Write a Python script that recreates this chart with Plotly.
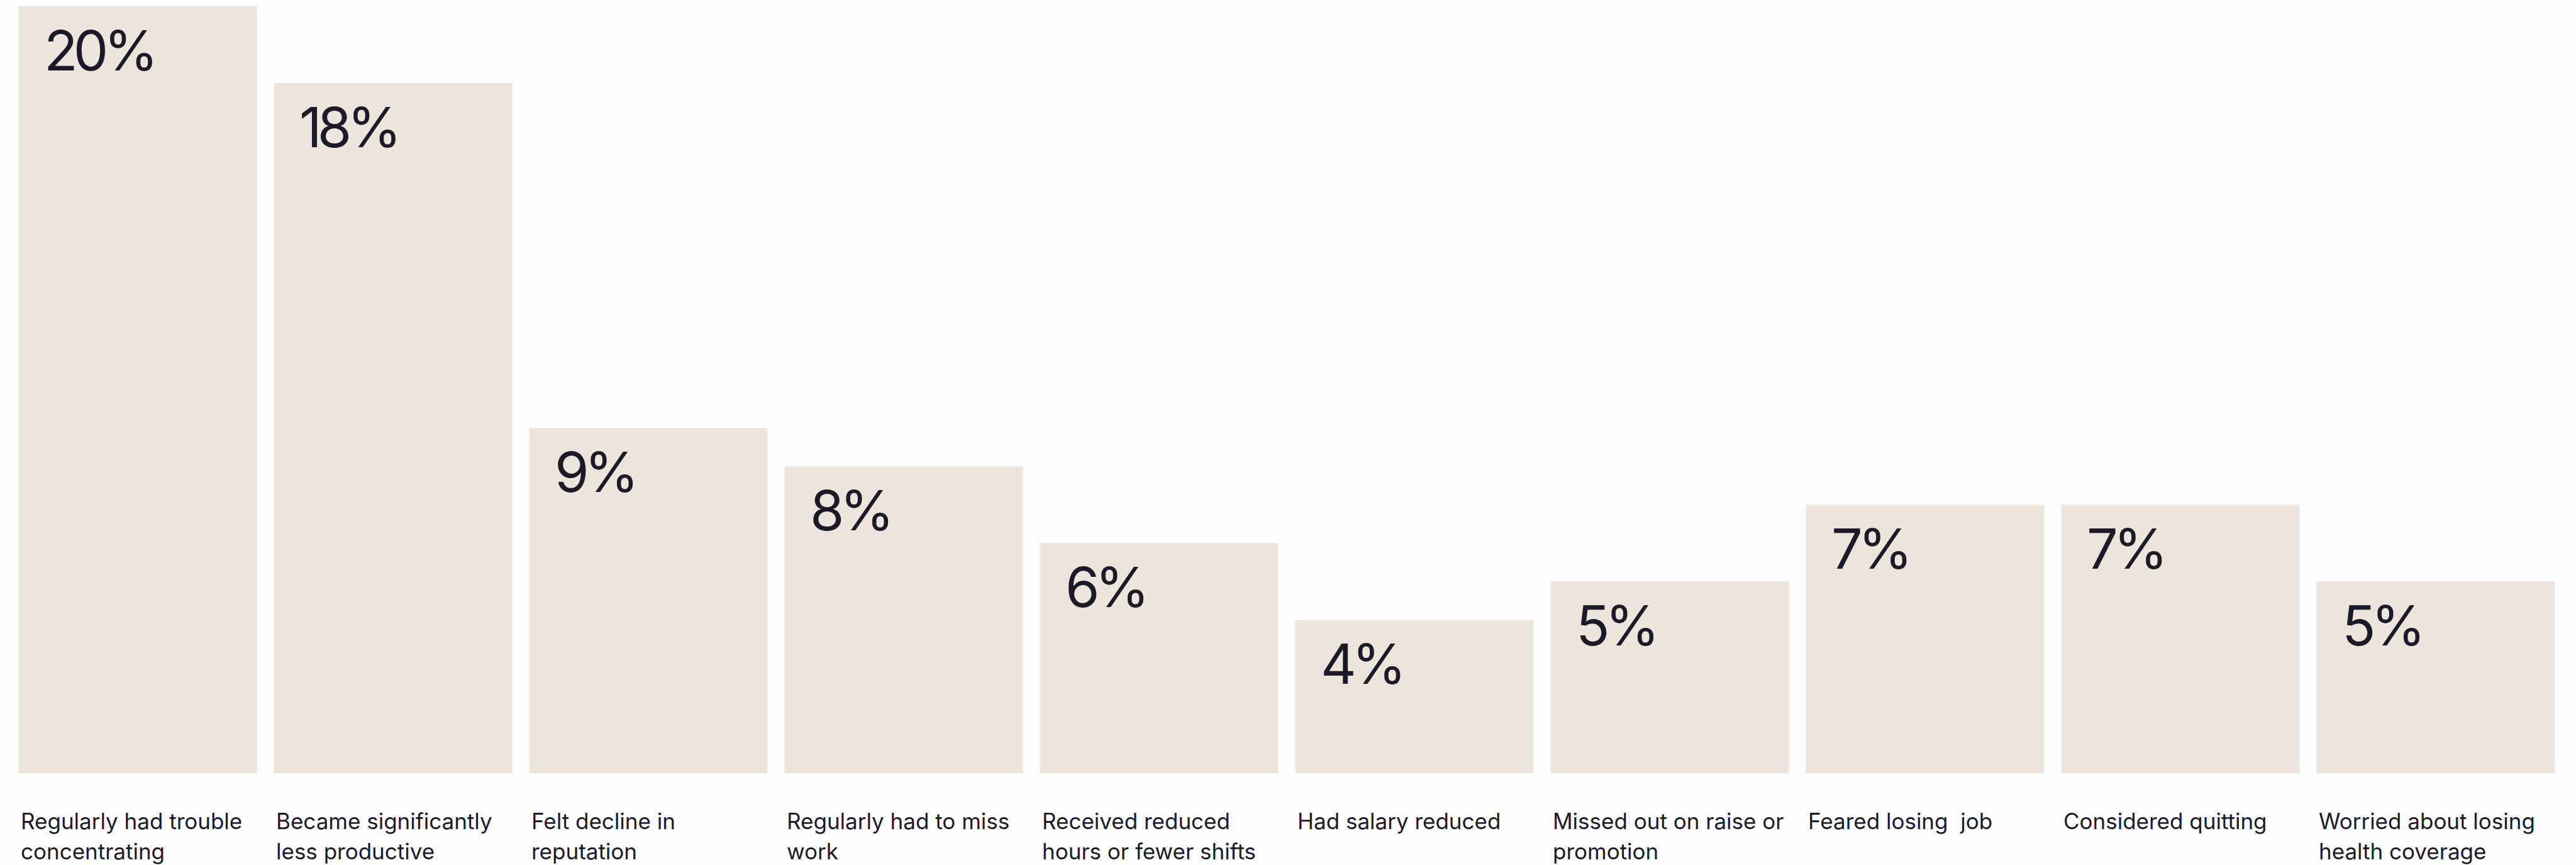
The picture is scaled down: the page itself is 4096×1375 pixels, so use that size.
import plotly.graph_objects as go

# Survey: effect of the issue on people's work life (% of respondents)
categories = [
    "Regularly had trouble<br>concentrating",
    "Became significantly<br>less productive",
    "Felt decline in<br>reputation",
    "Regularly had to miss<br>work",
    "Received reduced<br>hours or fewer shifts",
    "Had salary reduced",
    "Missed out on raise or<br>promotion",
    "Feared losing\u00a0 job",
    "Considered quitting",
    "Worried about losing<br>health coverage",
]
values = [20, 18, 9, 8, 6, 4, 5, 7, 7, 5]

BAR_COLOR = "#ECE5DC"
TEXT_COLOR = "#1C1928"
FONT = "Inter, 'Noto Sans', sans-serif"
BAR_WIDTH = 0.933

x = list(range(len(categories)))

fig = go.Figure(
    go.Bar(
        x=x,
        y=values,
        width=BAR_WIDTH,
        marker=dict(color=BAR_COLOR, line=dict(width=0)),
        hoverinfo="skip",
    )
)

annotations = []
for i, (cat, val) in enumerate(zip(categories, values)):
    left = i - BAR_WIDTH / 2
    # value label in the top-left corner of each bar, set slightly tight
    annotations.append(dict(
        x=left, y=val, xref="x", yref="y",
        text=f'<span style="letter-spacing:-7px">{val}%</span>',
        showarrow=False,
        xanchor="left", yanchor="top", align="left",
        xshift=38, yshift=-15,
        font=dict(family=FONT, size=88, color=TEXT_COLOR),
    ))
    # category label under the bar, one annotation per line
    for j, line in enumerate(cat.split("<br>")):
        annotations.append(dict(
            x=left, y=0, xref="x", yref="y",
            text=line, showarrow=False,
            xanchor="left", yanchor="top", align="left",
            xshift=1, yshift=-53 - 48 * j,
            font=dict(family=FONT, size=35, color=TEXT_COLOR),
        ))

fig.update_layout(
    width=4096, height=1375,
    margin=dict(l=16, r=20, t=10, b=146),
    paper_bgcolor="#FDFDFD",
    plot_bgcolor="#FDFDFD",
    showlegend=False,
    annotations=annotations,
    xaxis=dict(range=[-0.5, len(categories) - 0.5], visible=False, fixedrange=True),
    yaxis=dict(range=[0, 20], visible=False, fixedrange=True),
)

fig.write_html("out.html")
